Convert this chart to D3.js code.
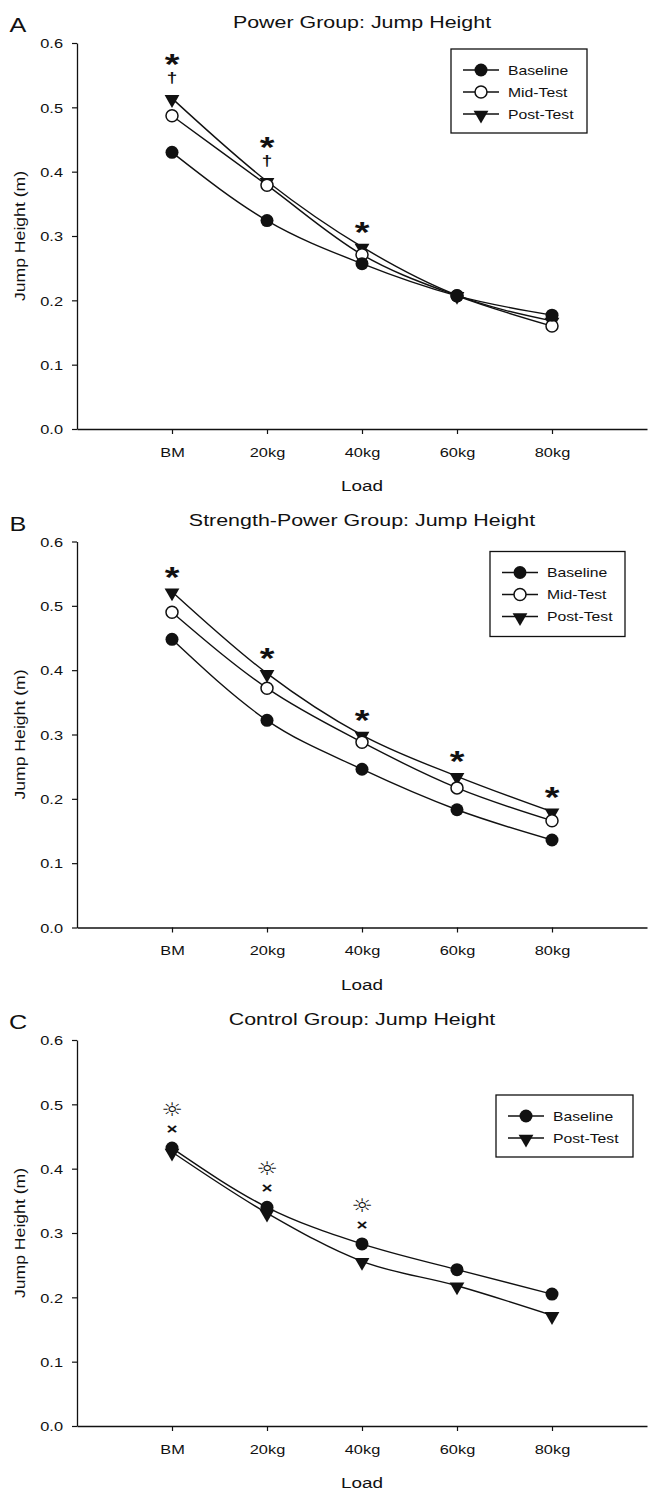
<!DOCTYPE html>
<html>
<head>
<meta charset="utf-8">
<title>Jump height by load</title>
<script src="https://d3js.org/d3.v7.min.js"></script>
<style>
  body { margin: 0; background: #fff; }
  svg { display: block; }
  text { font-family: "Liberation Sans", Arial, sans-serif; fill: #111; }
</style>
</head>
<body>
<svg id="chart" width="649" height="1491"></svg>
<script>
// ---- data ----
const loads = ["BM", "20kg", "40kg", "60kg", "80kg"];
const yTicks = [0, 0.1, 0.2, 0.3, 0.4, 0.5, 0.6];

const powerBaseline = [0.430, 0.324, 0.257, 0.207, 0.177];
const powerMid      = [0.487, 0.379, 0.271, 0.207, 0.160];
const powerPost     = [0.514, 0.385, 0.283, 0.208, 0.168];

const spBaseline = [0.448, 0.322, 0.246, 0.183, 0.136];
const spMid      = [0.490, 0.372, 0.288, 0.217, 0.166];
const spPost     = [0.522, 0.395, 0.299, 0.235, 0.180];

const ctlBaseline = [0.432, 0.340, 0.283, 0.243, 0.205];
const ctlPost     = [0.426, 0.331, 0.256, 0.218, 0.172];

// significance marks per load, listed bottom to top
const powerMarks = [["†", "*"], ["†", "*"], ["*"], [], []];
const spMarks    = [["*"], ["*"], ["*"], ["*"], ["*"]];
const ctlMarks   = [["×", "☼"], ["×", "☼"], ["×", "☼"], [], []];

const panels = [
  { letter: "A", title: "Power Group: Jump Height",
    series: [["Baseline", "filled", powerBaseline], ["Mid-Test", "open", powerMid], ["Post-Test", "tri", powerPost]],
    marks: powerMarks, legend: { x: 451, y: 49, w: 136, h: 84 } },
  { letter: "B", title: "Strength-Power Group: Jump Height",
    series: [["Baseline", "filled", spBaseline], ["Mid-Test", "open", spMid], ["Post-Test", "tri", spPost]],
    marks: spMarks, legend: { x: 490, y: 53, w: 135, h: 85 } },
  { letter: "C", title: "Control Group: Jump Height",
    series: [["Baseline", "filled", ctlBaseline], ["Post-Test", "tri", ctlPost]],
    marks: ctlMarks, legend: { x: 496, y: 98, w: 137, h: 62 } }
];

// ---- drawing ----
const sx = 1.26;            // the scanned lettering is wider than it is tall
const panelStep = 498.5;
const ink = "#111";

const svg = d3.select("#chart");
svg.append("rect").attr("width", 649).attr("height", 1491).attr("fill", "#fff");

const x = d3.scaleLinear().domain([-1, 5]).range([77, 647]);
const y = d3.scaleLinear().domain([0, 0.6]).range([429, 43]);

function label(g, px, py, txt, size, anchor, rot) {
  return g.append("text")
    .attr("transform", `translate(${px},${py})` + (rot ? ` rotate(${rot})` : "") + ` scale(${sx},1)`)
    .attr("text-anchor", anchor || "middle")
    .attr("font-size", size)
    .text(txt);
}

function marker(g, kind, cx, cy) {
  if (kind === "filled") {
    g.append("circle").attr("cx", cx).attr("cy", cy).attr("r", 6.5).attr("fill", ink);
  } else if (kind === "open") {
    g.append("circle").attr("cx", cx).attr("cy", cy).attr("r", 6)
      .attr("fill", "#fff").attr("stroke", ink).attr("stroke-width", 1.5);
  } else {
    g.append("path").attr("d", d3.symbol(d3.symbolTriangle, 95)())
      .attr("transform", `translate(${cx},${cy + 1}) rotate(180)`)
      .attr("fill", ink);
  }
}

// glyph styles for the significance symbols (baseline shift puts glyph centre on the anchor)
const glyph = {
  "*": { size: 30, weight: "bold", shift: 14, family: "'Liberation Sans', Arial, sans-serif" },
  "†": { size: 15, weight: "bold", shift: 4, family: "'Liberation Sans', Arial, sans-serif" },
  "×": { size: 15, weight: "bold", shift: 5, family: "'Liberation Sans', Arial, sans-serif" },
  "☼": { size: 19, weight: "normal", shift: 6, family: "'DejaVu Sans'" }
};

const line = d3.line().x((d, i) => x(i)).y(d => y(d)).curve(d3.curveMonotoneX);

panels.forEach((p, k) => {
  const g = svg.append("g").attr("transform", `translate(0,${k * panelStep})`);

  // axes
  const ya = g.append("g").attr("transform", `translate(${x.range()[0]},0)`)
    .call(d3.axisLeft(y).tickValues(yTicks).tickFormat(d3.format(".1f")).tickSize(5).tickSizeOuter(0));
  const xa = g.append("g").attr("transform", `translate(0,${y(0)})`)
    .call(d3.axisBottom(x).tickValues(d3.range(loads.length)).tickFormat(i => loads[i]).tickSize(5).tickSizeOuter(0));
  [ya, xa].forEach(a => {
    a.select(".domain").attr("stroke", ink).attr("stroke-width", 1.3);
    a.selectAll(".tick line").attr("stroke", ink).attr("stroke-width", 1.2);
    a.selectAll("text").attr("font-size", 13).attr("fill", ink)
      .style("font-family", "'Liberation Sans', Arial, sans-serif");
  });
  ya.selectAll("text").attr("x", 0).attr("dy", "0.36em").attr("transform", `translate(-14,0) scale(${sx},1)`);
  xa.selectAll("text").attr("y", 0).attr("dy", 0).attr("transform", `translate(0,27.5) scale(${sx},1)`);

  // titles
  label(g, 18, 32, p.letter, 20);
  label(g, 362, 27.5, p.title, 17);
  label(g, 362, 491, "Load", 15);
  label(g, 24.5, (y(0) + y(0.6)) / 2, "Jump Height (m)", 14, "middle", -90);

  // lines, then markers (baseline on top)
  p.series.forEach(s => {
    g.append("path").attr("d", line(s[2])).attr("fill", "none")
      .attr("stroke", ink).attr("stroke-width", 1.4);
  });
  p.series.slice().reverse().forEach(s => {
    s[2].forEach((v, i) => marker(g, s[1], x(i), y(v)));
  });

  // significance symbols stacked above the highest point: one text per load, a tspan per symbol
  p.marks.forEach((list, i) => {
    if (!list.length) return;
    const top = d3.max(p.series, s => s[2][i]);
    const t = g.append("text")
      .attr("transform", `translate(${x(i)},0) scale(${sx},1)`)
      .attr("text-anchor", "middle");
    list.forEach((m, j) => {
      const st = glyph[m];
      t.append("tspan")
        .attr("x", 0)
        .attr("y", y(top) - 19 * (j + 1) + st.shift)
        .attr("font-size", st.size)
        .attr("font-weight", st.weight)
        .style("font-family", st.family)
        .text(m);
    });
  });

  // legend
  const L = p.legend;
  g.append("rect").attr("x", L.x).attr("y", L.y).attr("width", L.w).attr("height", L.h)
    .attr("fill", "#fff").attr("stroke", ink).attr("stroke-width", 1.3);
  p.series.forEach((s, i) => {
    const ry = L.y + 21 + 22 * i;
    g.append("line").attr("x1", L.x + 12).attr("x2", L.x + 48).attr("y1", ry).attr("y2", ry)
      .attr("stroke", ink).attr("stroke-width", 1.4);
    marker(g, s[1], L.x + 30, ry);
    label(g, L.x + 57, ry + 4.5, s[0], 12.5, "start");
  });
});
</script>
</body>
</html>
